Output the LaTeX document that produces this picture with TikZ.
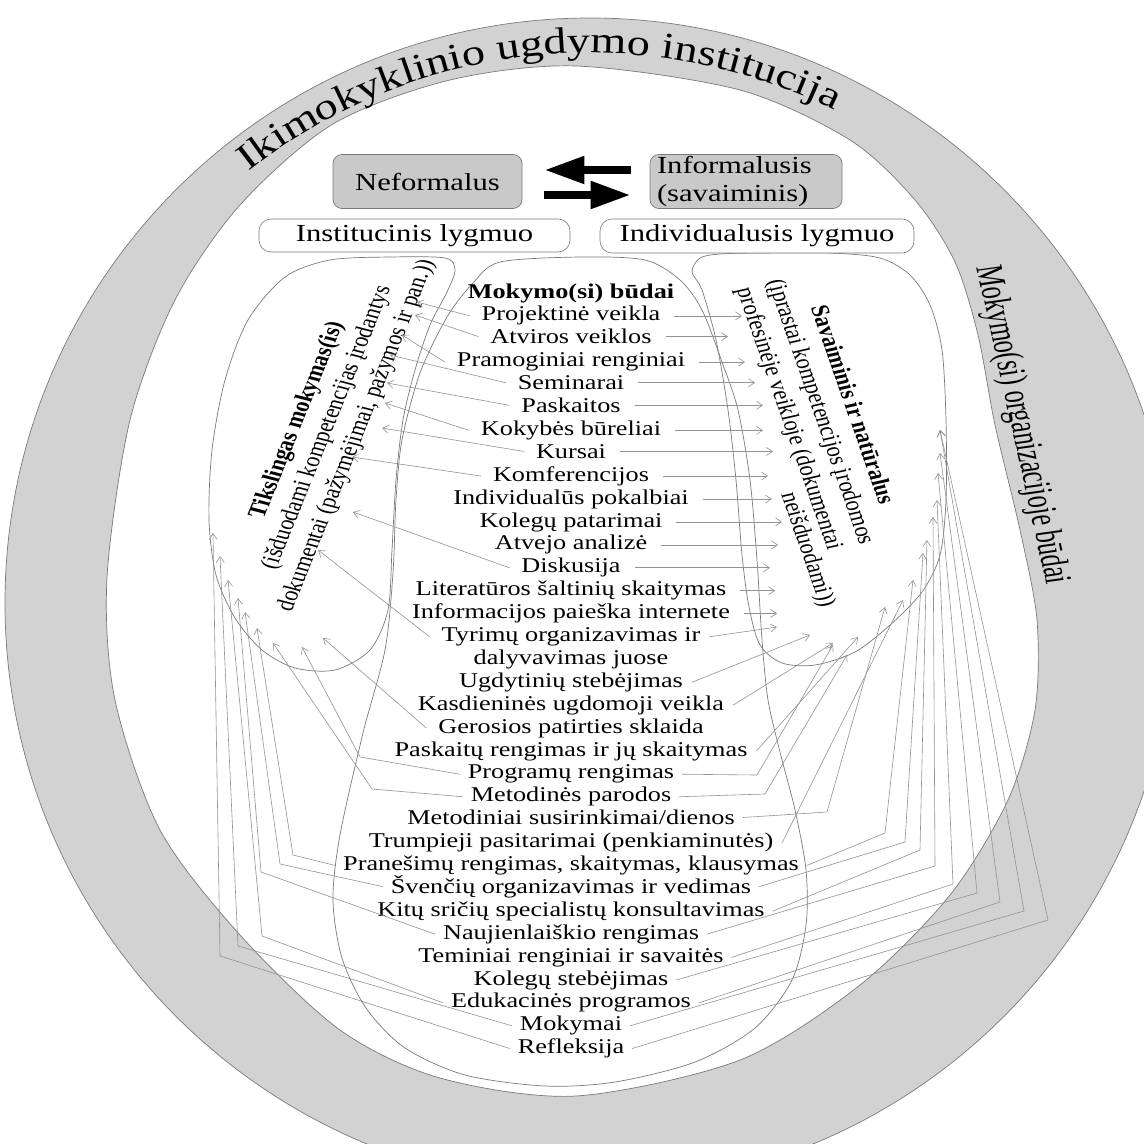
\documentclass[tikz,border=0pt]{standalone}
\usepackage{fontspec}
\usepackage{graphicx}
\setmainfont{Liberation Serif}[FakeStretch=1.25]
\newfontfamily\rotfont{Liberation Serif}
\usetikzlibrary{arrows.meta,decorations.text}
\definecolor{ringgray}{HTML}{D2D2D2}
\definecolor{boxgray}{HTML}{C9C9C9}
\definecolor{edgegray}{HTML}{7A7A7A}
\definecolor{arrgray}{HTML}{929292}
\newcommand{\listfont}{\fontsize{21}{23}\selectfont}
\newcommand{\labfont}{\fontsize{24.5}{28}\selectfont}
\newcommand{\rtext}[2]{\scalebox{1.25}[1]{\rotatebox{#1}{#2}}}
\begin{document}
\begin{tikzpicture}[x=1pt,y=-1pt,
 item/.style={inner sep=0pt,outer sep=0pt,anchor=base,font=\listfont},
 arr/.style={draw=arrgray,line width=0.6pt,-{Straight Barb[length=6pt,width=8pt]}},
 shapeline/.style={draw=edgegray,line width=0.7pt},
 graybox/.style={draw=edgegray,fill=boxgray,rounded corners=9pt,line width=0.7pt,font=\labfont,inner sep=0pt},
 whitebox/.style={draw=edgegray,fill=white,rounded corners=12pt,line width=0.6pt,font=\labfont,inner sep=0pt},
 bigarrow/.style={line width=8pt,-{Triangle[length=40pt,width=26pt]}},
 rotlabel/.style={inner sep=0pt,outer sep=0pt}]
\useasboundingbox (0,0) rectangle (1144,1144);
\fill[white] (0,0) rectangle (1144,1144);

% ---------- outer ring ----------
\fill[ringgray,even odd rule] (590,603) circle[radius=585]
  plot[smooth cycle] coordinates {(576,66) (740,90) (850,140) (915,200) (955,262) (978,335) (995,425) (1020,530) (1037,620) (1035,710) (1008,800) (950,895) (860,985) (740,1060) (576,1096) (440,1078) (340,1030) (240,935) (160,830) (115,700) (107,578) (130,420) (175,300) (240,205) (333,124) (450,80)};
\draw[shapeline] (590,603) circle[radius=585];
\draw[shapeline] plot[smooth cycle] coordinates {(576,66) (740,90) (850,140) (915,200) (955,262) (978,335) (995,425) (1020,530) (1037,620) (1035,710) (1008,800) (950,895) (860,985) (740,1060) (576,1096) (440,1078) (340,1030) (240,935) (160,830) (115,700) (107,578) (130,420) (175,300) (240,205) (333,124) (450,80)};

\path[decorate,decoration={text along path,text align=center,
  text={|\fontsize{37}{40}\selectfont|Ikimokyklinio ugdymo institucija}}]
  (590,603) ++(224:550) arc[start angle=224,end angle=304,radius=550];

\node[rotlabel] (orgtxt) at (1021,425) {\rtext{-80}{\rotfont\fontsize{31}{31}\selectfont\scalebox{0.78}[1]{Mokymo(si) organizacijoje būdai}}};

% ---------- inner shapes ----------
\draw[shapeline] plot[smooth cycle] coordinates {(445,258) (455,270) (447,292) (430,325) (415,370) (403,420) (396,480) (392,550) (388,610) (370,650) (335,670) (295,668) (262,650) (235,618) (216,575) (209,520) (212,450) (225,380) (248,320) (285,277) (330,260) (390,257)};
\draw[shapeline] plot[smooth cycle] coordinates {(720,254) (760,253) (830,253) (880,258) (910,275) (930,305) (942,350) (946,420) (946,500) (940,555) (922,592) (890,625) (855,652) (815,665) (782,663) (760,645) (749,607) (742,555) (736,480) (728,410) (716,340) (702,290) (692,272) (700,258)};
\draw[shapeline] plot[smooth cycle] coordinates {(500,262) (580,257) (645,260) (680,280) (702,310) (722,362) (738,410) (750,480) (757,560) (762,640) (768,700) (780,752) (795,810) (806,870) (806,925) (792,980) (755,1028) (695,1062) (615,1082) (545,1086) (465,1075) (405,1048) (366,1008) (342,958) (333,900) (340,835) (363,733) (385,650) (393,573) (396,500) (402,440) (420,373) (447,317) (473,283)};

% ---------- top boxes ----------
\node[graybox,minimum width=189pt,minimum height=54pt] (nef) at (427.5,181.5) {Neformalus};
\node[graybox,text width=178pt,align=left,inner xsep=7pt,minimum height=54pt] (inf) at (746,181.5) {Informalusis\\(savaiminis)};
\node[whitebox,minimum width=311pt,minimum height=33pt] (inst) at (414.5,235.5) {Institucinis lygmuo};
\node[whitebox,minimum width=314pt,minimum height=34pt] (indiv) at (757,236) {Individualusis lygmuo};
\draw[bigarrow,shorten <=19pt,shorten >=22pt] ([yshift=11.5pt]inf.west) -- ([yshift=11.5pt]nef.east);
\draw[bigarrow,shorten <=22pt,shorten >=19pt] ([yshift=-13.5pt]nef.east) -- ([yshift=-13.5pt]inf.west);

% ---------- rotated side texts ----------
\node[rotlabel] (tiksl) at (327,428) {\rtext{72}{\rotfont\fontsize{20.5}{25}\selectfont\begin{tabular}{@{}c@{}}\textbf{Tikslingas mokymas(is)}\\(išduodami kompetencijas įrodantys\\dokumentai (pažymėjimai, pažymos ir pan.))\end{tabular}}};
\node[rotlabel] (sav) at (820,412) {\rtext{-74.4}{\rotfont\fontsize{20.5}{26}\selectfont\begin{tabular}{@{}c@{}}\textbf{Savaiminis ir natūralus}\\(įprastai kompetencijos įrodomos\\profesinėje veikloje (dokumentai\end{tabular}}};
\node[rotlabel] (sav4) at (807,550) {\rtext{-74.4}{\rotfont\fontsize{20.5}{26}\selectfont neišduodami))}};

% ---------- list ----------
\node[item,font=\listfont\bfseries] (n0) at (571,298) {Mokymo(si) būdai};
\node[item] (n1) at (571,320.9) {Projektinė veikla};
\node[item] (n2) at (571,343.8) {Atviros veiklos};
\node[item] (n3) at (571,366.7) {Pramoginiai renginiai};
\node[item] (n4) at (571,389.6) {Seminarai};
\node[item] (n5) at (571,412.5) {Paskaitos};
\node[item] (n6) at (571,435.4) {Kokybės būreliai};
\node[item] (n7) at (571,458.3) {Kursai};
\node[item] (n8) at (571,481.2) {Komferencijos};
\node[item] (n9) at (571,504.1) {Individualūs pokalbiai};
\node[item] (n10) at (571,527.0) {Kolegų patarimai};
\node[item] (n11) at (571,549.9) {Atvejo analizė};
\node[item] (n12) at (571,572.8) {Diskusija};
\node[item] (n13) at (571,595.7) {Literatūros šaltinių skaitymas};
\node[item] (n14) at (571,618.6) {Informacijos paieška internete};
\node[item] (n15) at (571,641.5) {Tyrimų organizavimas ir};
\node[item] (n16) at (571,664.4) {dalyvavimas juose};
\node[item] (n17) at (571,687.3) {Ugdytinių stebėjimas};
\node[item] (n18) at (571,710.2) {Kasdieninės ugdomoji veikla};
\node[item] (n19) at (571,733.1) {Gerosios patirties sklaida};
\node[item] (n20) at (571,756.0) {Paskaitų rengimas ir jų skaitymas};
\node[item] (n21) at (571,778.9) {Programų rengimas};
\node[item] (n22) at (571,801.8) {Metodinės parodos};
\node[item] (n23) at (571,824.7) {Metodiniai susirinkimai/dienos};
\node[item] (n24) at (571,847.6) {Trumpieji pasitarimai (penkiaminutės)};
\node[item] (n25) at (571,870.5) {Pranešimų rengimas, skaitymas, klausymas};
\node[item] (n26) at (571,893.4) {Švenčių organizavimas ir vedimas};
\node[item] (n27) at (571,916.3) {Kitų sričių specialistų konsultavimas};
\node[item] (n28) at (571,939.2) {Naujienlaiškio rengimas};
\node[item] (n29) at (571,962.1) {Teminiai renginiai ir savaitės};
\node[item] (n30) at (571,985.0) {Kolegų stebėjimas};
\node[item] (n31) at (571,1007.9) {Edukacinės programos};
\node[item] (n32) at (571,1030.8) {Mokymai};
\node[item] (n33) at (571,1053.7) {Refleksija};

% ---------- connectors ----------
\foreach \i/\hx/\hy in {1/417/302,2/415/315,3/402/335,4/390/355,5/387/383,6/385/403,7/382/428,8/352/457,12/353/512,15/318/550,19/323/638}{
  \coordinate (lh\i) at (\hx,\hy);
  \draw[arr] ([xshift=-12pt]n\i.west) -- (lh\i);
}
\foreach \i/\hx in {1/742,2/728,3/745,4/755,5/763,6/763,7/773,8/768,9/772,10/782,11/778,12/770,13/775,14/777}{
  \coordinate (rh\i) at (\hx,0);
  \draw[arr] ([xshift=14pt]n\i.east) -- (n\i.east -| rh\i);
}
\foreach \i/\hx/\hy in {15/777/627,17/810/635,18/833/643,20/858/637,24/903/600}{
  \coordinate (rf\i) at (\hx,\hy);
  \draw[arr] ([xshift=9pt]n\i.east) -- (rf\i);
}
\foreach \i/\bx/\by/\hx/\hy in {21/757/775/833/645,22/765/794/847/655,23/827/812/885/607,25/885/833/913/580,26/905/842/923/553,27/920/850/927/540,28/935/866/933/517,29/953/884/937/500,30/977/893/938/473,31/1000/902/940/453,32/1024/911/940/430,33/1048/920/940/430}{
  \coordinate (rb\i) at (\bx,\by);
  \coordinate (rf\i) at (\hx,\hy);
  \draw[arr] ([xshift=8pt]n\i.east) -- (rb\i) -- (rf\i);
}
\foreach \i/\bx/\by/\hx/\hy in {21/360/757/302/647,22/372/789/273/643,25/293/855/257/628,26/280/864/245/612,28/261/872/238/598,31/262/936/228/580,32/238/946/220/556,33/220/956/213/533}{
  \coordinate (lb\i) at (\bx,\by);
  \coordinate (lh\i) at (\hx,\hy);
  \draw[arr] ([xshift=-8pt]n\i.west) -- (lb\i) -- (lh\i);
}
\end{tikzpicture}
\end{document}
